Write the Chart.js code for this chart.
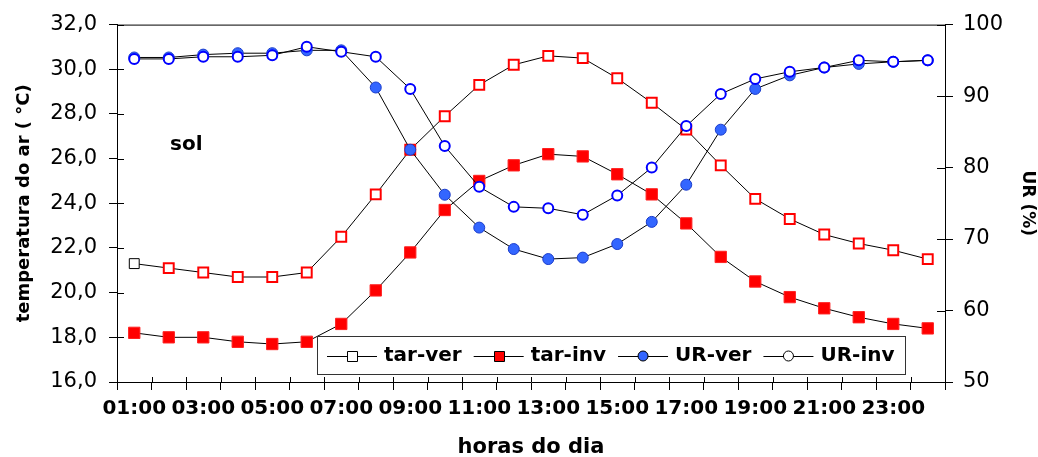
<!DOCTYPE html>
<html><head><meta charset="utf-8">
<script src="https://cdn.jsdelivr.net/npm/chart.js@4/dist/chart.umd.min.js"></script>
<style>html,body{margin:0;padding:0;background:#fff;}#wrap{width:1038px;height:457px;}</style>
</head><body><div id="wrap"><canvas id="c" width="1038" height="457"></canvas></div>
<script>
const hours = ["01:00","02:00","03:00","04:00","05:00","06:00","07:00","08:00","09:00","10:00","11:00","12:00","13:00","14:00","15:00","16:00","17:00","18:00","19:00","20:00","21:00","22:00","23:00","24:00"];
const tarVer = [21.3,21.1,20.9,20.7,20.7,20.9,22.5,24.4,26.4,27.9,29.3,30.2,30.6,30.5,29.6,28.5,27.3,25.7,24.2,23.3,22.6,22.2,21.9,21.5];
const tarInv = [18.2,18.0,18.0,17.8,17.7,17.8,18.6,20.1,21.8,23.7,25.0,25.7,26.2,26.1,25.3,24.4,23.1,21.6,20.5,19.8,19.3,18.9,18.6,18.4];
const urVer = [95.4,95.4,95.8,96.0,96.0,96.4,96.4,91.2,82.5,76.2,71.6,68.6,67.2,67.4,69.3,72.4,77.6,85.3,91.0,92.9,94.0,94.5,94.8,95.0];
const urInv = [95.2,95.2,95.5,95.5,95.7,96.9,96.2,95.5,91.0,83.0,77.3,74.5,74.3,73.4,76.1,80.0,85.8,90.3,92.4,93.4,94.0,95.0,94.8,95.0];
const seriesNames = ["tar-ver","tar-inv","UR-ver","UR-inv"];
const tempAxisTitle = "temperatura do ar ( °C)";
const urAxisTitle = "UR (%)";
const xAxisTitle = "horas do dia";
const annotationText = "sol";

const FONT = "'DejaVu Sans', sans-serif";

const innerTicks = {
  id: 'innerTicks',
  afterDraw(chart) {
    const ctx = chart.ctx, a = chart.chartArea;
    ctx.save();
    ctx.strokeStyle = '#000';
    ctx.lineWidth = 1;
    ctx.beginPath();
    ctx.moveTo(a.left, a.top + 0.5); ctx.lineTo(a.right, a.top + 0.5);
    ctx.stroke();
    const y = chart.scales.y, y1 = chart.scales.y1, x = chart.scales.x;
    ctx.beginPath();
    y.ticks.forEach((t, i) => {
      const p = Math.round(y.getPixelForTick(i)) + 0.5;
      ctx.moveTo(a.left, p); ctx.lineTo(a.left + 7, p);
    });
    y1.ticks.forEach((t, i) => {
      const p = Math.round(y1.getPixelForTick(i)) + 0.5;
      ctx.moveTo(a.right, p); ctx.lineTo(a.right - 8, p);
    });
    const step = x.getPixelForValue(1) - x.getPixelForValue(0);
    for (let i = 0; i <= hours.length; i++) {
      const p = Math.round(x.getPixelForValue(i) - step / 2) + 0.5;
      ctx.moveTo(p, a.bottom); ctx.lineTo(p, a.bottom - 5);
    }
    ctx.stroke();
    ctx.restore();
  }
};

const customLegend = {
  id: 'customLegend',
  afterDatasetsDraw(chart) {
    const ctx = chart.ctx, a = chart.chartArea;
    const left = a.left + 200, top = a.bottom - 46, right = a.right - 40, bottom = a.bottom - 8;
    ctx.save();
    ctx.fillStyle = '#fff';
    ctx.fillRect(left, top, right - left, bottom - top);
    ctx.strokeStyle = '#333';
    ctx.lineWidth = 1;
    ctx.strokeRect(left + 0.5, top + 0.5, right - left, bottom - top);
    ctx.fillStyle = '#000';
    ctx.font = "bold 20px " + FONT;
    ctx.textBaseline = 'middle';
    ctx.textAlign = 'left';
    ctx.fillText(annotationText, a.left + 53, a.top + 120);
    const cy = (top + bottom) / 2 + 1;
    let xx = left + 10;
    const styles = [
      {shape: 'rect', fill: '#fff', stroke: '#000'},
      {shape: 'rect', fill: '#FF0000', stroke: '#000'},
      {shape: 'circle', fill: '#3366FF', stroke: '#000'},
      {shape: 'circle', fill: '#fff', stroke: '#000'}
    ];
    seriesNames.forEach((name, i) => {
      const s = styles[i];
      ctx.strokeStyle = '#000';
      ctx.lineWidth = 1;
      ctx.beginPath();
      ctx.moveTo(xx, Math.round(cy) + 0.5); ctx.lineTo(xx + 50, Math.round(cy) + 0.5);
      ctx.stroke();
      const mx = xx + 25;
      ctx.fillStyle = s.fill;
      ctx.strokeStyle = s.stroke;
      ctx.beginPath();
      if (s.shape === 'rect') ctx.rect(Math.round(mx - 5) + 0.5, Math.round(cy - 5) + 0.5, 10, 10);
      else ctx.arc(mx, cy, 5, 0, Math.PI * 2);
      ctx.fill(); ctx.stroke();
      ctx.fillStyle = '#000';
      ctx.font = "bold 20px " + FONT;
      ctx.fillText(name, xx + 57, cy);
      xx += 57 + ctx.measureText(name).width + 12;
    });
    ctx.restore();
  }
};

new Chart(document.getElementById('c'), {
  type: 'line',
  data: {
    labels: hours,
    datasets: [
      {label: seriesNames[0], data: tarVer, yAxisID: 'y', borderColor: '#000', borderWidth: 1,
       pointStyle: 'rect', pointRadius: 7, pointBorderWidth: tarVer.map((v, i) => i === 0 ? 1 : 2),
       pointBorderColor: tarVer.map((v, i) => i === 0 ? '#000' : '#FF0000'), pointBackgroundColor: '#fff', order: 4},
      {label: seriesNames[1], data: tarInv, yAxisID: 'y', borderColor: '#000', borderWidth: 1,
       pointStyle: 'rect', pointRadius: 8, pointBorderWidth: 1,
       pointBorderColor: '#FF2020', pointBackgroundColor: '#FF0000', order: 3},
      {label: seriesNames[2], data: urVer, yAxisID: 'y1', borderColor: '#000', borderWidth: 1,
       pointStyle: 'circle', pointRadius: 5.5, pointBorderWidth: 1,
       pointBorderColor: '#1A3CCC', pointBackgroundColor: '#3366FF', order: 2},
      {label: seriesNames[3], data: urInv, yAxisID: 'y1', borderColor: '#000', borderWidth: 1,
       pointStyle: 'circle', pointRadius: 5, pointBorderWidth: 2,
       pointBorderColor: '#0000FF', pointBackgroundColor: '#fff', order: 1}
    ]
  },
  options: {
    responsive: false,
    devicePixelRatio: 1,
    animation: false,
    layout: {padding: {top: 23, left: 0, right: 0, bottom: 0}},
    plugins: {legend: {display: false}, tooltip: {enabled: false}},
    elements: {line: {tension: 0}},
    scales: {
      x: {
        type: 'category', offset: true,
        grid: {offset: true, drawOnChartArea: false, tickLength: 8, color: '#000', lineWidth: 1},
        border: {color: '#000', width: 1},
        ticks: {autoSkip: false, maxRotation: 0, minRotation: 0, padding: 7, color: '#000',
          font: {family: FONT, size: 20, weight: 'bold'},
          callback: function (v, i) { return i % 2 === 0 ? this.getLabelForValue(v) : ''; }},
        title: {display: true, text: xAxisTitle, color: '#000',
          font: {family: FONT, size: 21, weight: 'bold', lineHeight: 1}, padding: {top: 0, bottom: -1}},
        afterFit: s => { s.height = 75; }
      },
      y: {
        position: 'left', min: 16, max: 32,
        grid: {drawOnChartArea: false, tickLength: 8, color: '#000'},
        border: {color: '#000', width: 1},
        ticks: {stepSize: 2, padding: 12, color: '#000', font: {family: FONT, size: 21},
          callback: v => v.toFixed(1).replace('.', ',')},
        title: {display: true, text: tempAxisTitle, color: '#000',
          font: {family: FONT, size: 18, weight: 'bold'}, padding: {top: 14, bottom: 0}},
        afterFit: s => { s.width = 117; }
      },
      y1: {
        position: 'right', min: 50, max: 100,
        grid: {drawOnChartArea: false, tickLength: 8, color: '#000'},
        border: {color: '#000', width: 1},
        ticks: {stepSize: 10, padding: 10, color: '#000', font: {family: FONT, size: 21}},
        title: {display: true, text: urAxisTitle, color: '#000',
          font: {family: FONT, size: 17, weight: 'bold'}, padding: {top: 0, bottom: 0}},
        afterFit: s => { s.width = 93; }
      }
    }
  },
  plugins: [innerTicks, customLegend]
});
</script></body></html>
